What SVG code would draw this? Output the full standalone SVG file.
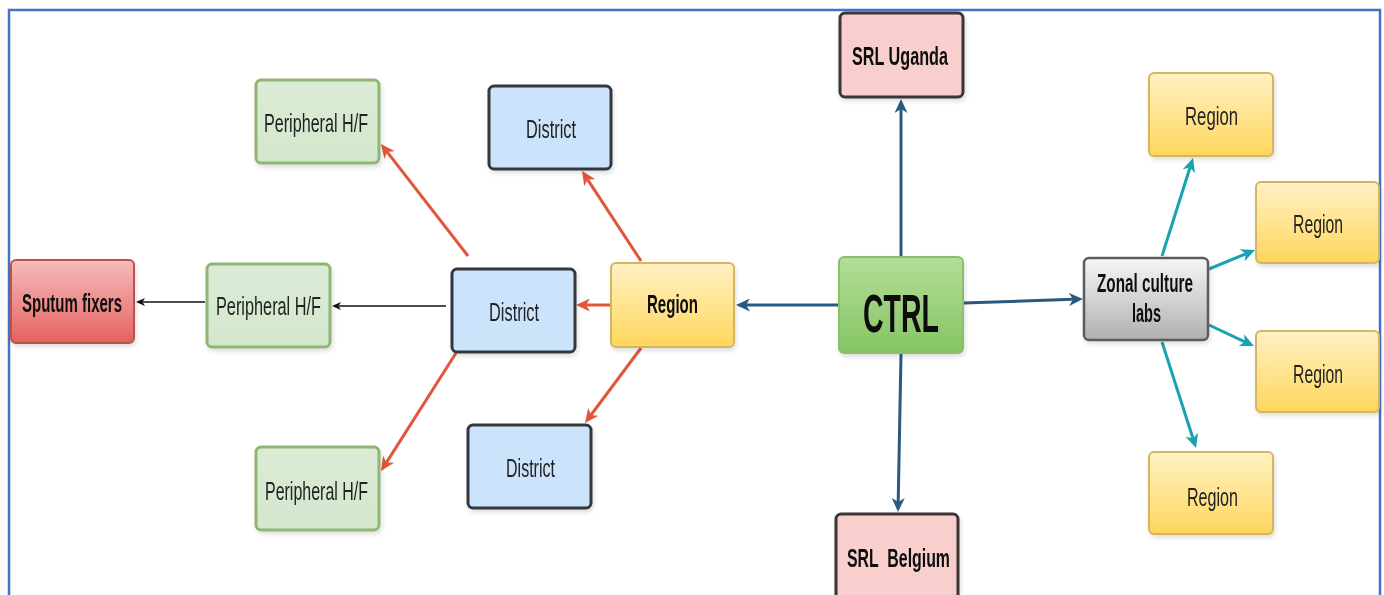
<svg xmlns="http://www.w3.org/2000/svg" width="1384" height="595" viewBox="0 0 1384 595">
  <defs>
    <linearGradient id="gGreen" x1="0" y1="0" x2="0" y2="1">
      <stop offset="0" stop-color="#dcebd6"/>
      <stop offset="1" stop-color="#d3e7cc"/>
    </linearGradient>
    <linearGradient id="gCtrl" x1="0" y1="0" x2="0" y2="1">
      <stop offset="0" stop-color="#b3de98"/>
      <stop offset="1" stop-color="#86c563"/>
    </linearGradient>
    <linearGradient id="gYellow" x1="0" y1="0" x2="0" y2="1">
      <stop offset="0" stop-color="#fff1c4"/>
      <stop offset="1" stop-color="#ffd65c"/>
    </linearGradient>
    <linearGradient id="gRed" x1="0" y1="0" x2="0" y2="1">
      <stop offset="0" stop-color="#f5bcbc"/>
      <stop offset="1" stop-color="#e4625f"/>
    </linearGradient>
    <linearGradient id="gGray" x1="0" y1="0" x2="0" y2="1">
      <stop offset="0" stop-color="#f6f6f6"/>
      <stop offset="1" stop-color="#b0b0b0"/>
    </linearGradient>
    <filter id="shadow" x="-10%" y="-10%" width="130%" height="140%">
      <feDropShadow dx="1.5" dy="3" stdDeviation="2" flood-color="#000" flood-opacity="0.12"/>
    </filter>
    <marker id="aBlue" markerUnits="userSpaceOnUse" markerWidth="16" markerHeight="13" refX="4" refY="6.5" orient="auto">
      <path d="M0,0 L14,6.5 L0,13 L4,6.5 z" fill="#2c5a7e"/>
    </marker>
    <marker id="aRed" markerUnits="userSpaceOnUse" markerWidth="16" markerHeight="13" refX="4" refY="6.5" orient="auto">
      <path d="M0,0 L14,6.5 L0,13 L4,6.5 z" fill="#e2553b"/>
    </marker>
    <marker id="aTeal" markerUnits="userSpaceOnUse" markerWidth="16" markerHeight="13" refX="4" refY="6.5" orient="auto">
      <path d="M0,0 L14,6.5 L0,13 L4,6.5 z" fill="#17a3b1"/>
    </marker>
    <marker id="aBlack" markerUnits="userSpaceOnUse" markerWidth="10" markerHeight="8" refX="2.5" refY="4" orient="auto">
      <path d="M0,0 L9,4 L0,8 L2.5,4 z" fill="#111"/>
    </marker>
  </defs>
  <style>
    .box { filter: url(#shadow); }
    .periph { fill: url(#gGreen); stroke: #8fb674; stroke-width: 3; }
    .district { fill: #cce4fb; stroke: #33383d; stroke-width: 3; }
    .region { fill: url(#gYellow); stroke: #d4b560; stroke-width: 2; }
    .srl { fill: #f9cfcd; stroke: #3b3436; stroke-width: 3; }
    .ctrl { fill: url(#gCtrl); stroke: #8bbf6a; stroke-width: 2; }
    .zonal { fill: url(#gGray); stroke: #5c5c5c; stroke-width: 2.5; }
    .sputum { fill: url(#gRed); stroke: #b8524f; stroke-width: 2; }
    .t { font-family: "Liberation Sans Narrow", "Liberation Sans", Arial, sans-serif; font-size: 25px; fill: #222; text-anchor: middle; }
    .b { font-weight: bold; fill: #111; }
    .blue { stroke: #2c5a7e; stroke-width: 3; fill: none; marker-end: url(#aBlue); }
    .red { stroke: #e2553b; stroke-width: 3; fill: none; marker-end: url(#aRed); }
    .teal { stroke: #17a3b1; stroke-width: 3; fill: none; marker-end: url(#aTeal); }
    .black { stroke: #111; stroke-width: 1.3; fill: none; marker-end: url(#aBlack); }
  </style>

  <rect width="1384" height="595" fill="#ffffff"/>
  <!-- page frame -->
  <rect x="9" y="10" width="1371" height="600" fill="none" stroke="#4472c4" stroke-width="2.5"/>

  <!-- connectors -->
  <g id="connectors">
    <path class="blue" d="M838,305 L746,305"/>
    <path class="blue" d="M901,256 L901,109"/>
    <path class="blue" d="M901,354 L898.2,502"/>
    <path class="blue" d="M964,303 L1073,299.3"/>
    <path class="red" d="M610,305 L586,305"/>
    <path class="red" d="M641,261 L587.5,179.4"/>
    <path class="red" d="M641,348 L591,415"/>
    <path class="red" d="M468,256 L387.1,151.9"/>
    <path class="red" d="M456,353 L386.4,462.6"/>
    <path class="black" d="M446,306 L338.5,306"/>
    <path class="black" d="M205,302 L142.5,302"/>
    <path class="teal" d="M1162,256 L1190,167.5"/>
    <path class="teal" d="M1209,269 L1245.8,253.8"/>
    <path class="teal" d="M1209,325 L1244.9,341.8"/>
    <path class="teal" d="M1162,342 L1193,438.5"/>
  </g>

  <!-- nodes -->
  <g id="periph-top" class="box">
    <rect class="periph" x="256" y="80" width="123" height="83" rx="5"/>
    <text class="t" x="316" y="132" textLength="104" lengthAdjust="spacingAndGlyphs">Peripheral H/F</text>
  </g>
  <g id="periph-mid" class="box">
    <rect class="periph" x="207" y="264" width="123" height="83" rx="5"/>
    <text class="t" x="268.5" y="315" textLength="105" lengthAdjust="spacingAndGlyphs">Peripheral H/F</text>
  </g>
  <g id="periph-bottom" class="box">
    <rect class="periph" x="256" y="447" width="123" height="83" rx="5"/>
    <text class="t" x="316.5" y="500" textLength="103" lengthAdjust="spacingAndGlyphs">Peripheral H/F</text>
  </g>
  <g id="sputum" class="box">
    <rect class="sputum" x="11" y="260" width="123" height="83" rx="5"/>
    <text class="t b" x="72" y="312" textLength="100" lengthAdjust="spacingAndGlyphs">Sputum fixers</text>
  </g>
  <g id="district-top" class="box">
    <rect class="district" x="489" y="86" width="122" height="83" rx="5"/>
    <text class="t" x="551" y="138" textLength="50" lengthAdjust="spacingAndGlyphs">District</text>
  </g>
  <g id="district-mid" class="box">
    <rect class="district" x="452" y="269" width="123" height="83" rx="5"/>
    <text class="t" x="514" y="321" textLength="50" lengthAdjust="spacingAndGlyphs">District</text>
  </g>
  <g id="district-bottom" class="box">
    <rect class="district" x="468" y="425" width="123" height="83" rx="5"/>
    <text class="t" x="530.5" y="477" textLength="49" lengthAdjust="spacingAndGlyphs">District</text>
  </g>
  <g id="region-main" class="box">
    <rect class="region" x="611" y="263" width="123" height="84" rx="5"/>
    <text class="t b" x="672.5" y="313" textLength="51" lengthAdjust="spacingAndGlyphs">Region</text>
  </g>
  <g id="srl-uganda" class="box">
    <rect class="srl" x="840" y="13" width="123" height="84" rx="5"/>
    <text class="t b" x="900" y="65" textLength="96" lengthAdjust="spacingAndGlyphs">SRL Uganda</text>
  </g>
  <g id="ctrl" class="box">
    <rect class="ctrl" x="839" y="257" width="124" height="96" rx="5"/>
    <text class="t b" x="901" y="332" style="font-size:53px" textLength="76" lengthAdjust="spacingAndGlyphs">CTRL</text>
  </g>
  <g id="srl-belgium" class="box">
    <rect class="srl" x="836" y="514" width="122" height="90" rx="5"/>
    <text class="t b" x="898.5" y="567" textLength="103" lengthAdjust="spacingAndGlyphs" xml:space="preserve">SRL  Belgium</text>
  </g>
  <g id="zonal" class="box">
    <rect class="zonal" x="1084" y="258" width="124" height="82" rx="5"/>
    <text class="t b" x="1145" y="292" textLength="96" lengthAdjust="spacingAndGlyphs">Zonal culture</text>
    <text class="t b" x="1146.5" y="322" textLength="29" lengthAdjust="spacingAndGlyphs">labs</text>
  </g>
  <g id="region-a" class="box">
    <rect class="region" x="1149" y="73" width="124" height="83" rx="5"/>
    <text class="t" x="1211.5" y="125" textLength="53" lengthAdjust="spacingAndGlyphs">Region</text>
  </g>
  <g id="region-b" class="box">
    <rect class="region" x="1256" y="182" width="123" height="81" rx="5"/>
    <text class="t" x="1318" y="233" textLength="50" lengthAdjust="spacingAndGlyphs">Region</text>
  </g>
  <g id="region-c" class="box">
    <rect class="region" x="1256" y="331" width="123" height="81" rx="5"/>
    <text class="t" x="1318" y="383" textLength="50" lengthAdjust="spacingAndGlyphs">Region</text>
  </g>
  <g id="region-d" class="box">
    <rect class="region" x="1149" y="452" width="124" height="82" rx="5"/>
    <text class="t" x="1212.5" y="506" textLength="51" lengthAdjust="spacingAndGlyphs">Region</text>
  </g>
</svg>
